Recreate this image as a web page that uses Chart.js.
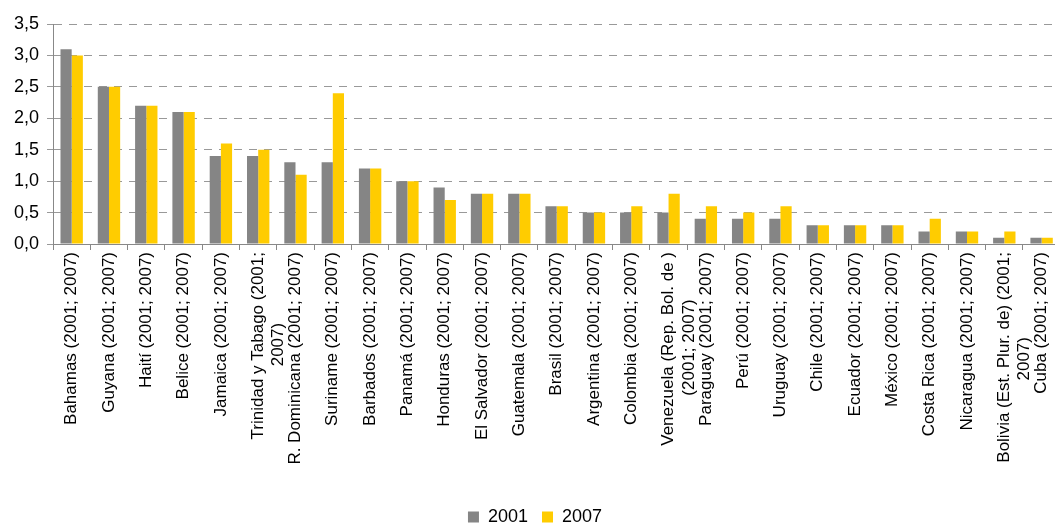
<!DOCTYPE html>
<html>
<head>
<meta charset="utf-8">
<script src="https://cdn.jsdelivr.net/npm/chart.js@4"></script>
<style>
  html, body { margin: 0; padding: 0; background: #fff; overflow: hidden; }
  #wrap { width: 1064px; height: 536px; }
</style>
</head>
<body>
<div id="wrap"><canvas id="rateChart"></canvas></div>
<script>
const countries = [
    'Bahamas (2001; 2007)', 'Guyana (2001; 2007)', 'Haití (2001; 2007)', 'Belice (2001; 2007)',
    'Jamaica (2001; 2007)', ['Trinidad y Tabago (2001;', '2007)'], 'R. Dominicana (2001; 2007)',
    'Suriname (2001; 2007)', 'Barbados (2001; 2007)', 'Panamá (2001; 2007)', 'Honduras (2001; 2007)',
    'El Salvador (2001; 2007)', 'Guatemala (2001; 2007)', 'Brasil (2001; 2007)', 'Argentina (2001; 2007)',
    'Colombia (2001; 2007)', ['Venezuela (Rep. Bol. de )', '(2001; 2007)'], 'Paraguay (2001; 2007)',
    'Perú (2001; 2007)', 'Uruguay (2001; 2007)', 'Chile (2001; 2007)', 'Ecuador (2001; 2007)',
    'México (2001; 2007)', 'Costa Rica (2001; 2007)', 'Nicaragua (2001; 2007)',
    ['Bolivia (Est. Plur. de) (2001;', '2007)'], 'Cuba (2001; 2007)'
];
const values2001 = [3.1, 2.5, 2.2, 2.1, 1.4, 1.4, 1.3, 1.3, 1.2, 1.0, 0.9, 0.8, 0.8, 0.6, 0.5, 0.5, 0.5, 0.4, 0.4, 0.4, 0.3, 0.3, 0.3, 0.2, 0.2, 0.1, 0.1];
const values2007 = [3.0, 2.5, 2.2, 2.1, 1.6, 1.5, 1.1, 2.4, 1.2, 1.0, 0.7, 0.8, 0.8, 0.6, 0.5, 0.6, 0.8, 0.6, 0.5, 0.6, 0.3, 0.3, 0.3, 0.4, 0.2, 0.2, 0.1];
const yTicks = [0, 0.5, 1, 1.5, 2, 2.5, 3, 3.5];

Chart.defaults.font.family = '"Liberation Sans", Arial, sans-serif';
Chart.defaults.color = '#000';

// short second lines are centred under the long first line, as in the source chart
let centreLines = (label) => {
    if (!Array.isArray(label)) return label;
    ctx.font = '17px "Liberation Sans"';
    let full = ctx.measureText(label[0]).width;
    let space = ctx.measureText('\u00a0').width;
    return label.map(line => {
        let w = ctx.measureText(line).width;
        let n = Math.round((full - w) / 2 / space);
        return line + '\u00a0'.repeat(n);
    });
};

let ctx = document.getElementById('rateChart').getContext('2d');
let chart = new Chart(ctx, {
    type: 'bar',
    data: {
        labels: countries,
        datasets: [{
            label: '2001',
            data: values2001,
            backgroundColor: '#858585',
            barPercentage: 1,
            categoryPercentage: 0.6
        }, {
            label: '2007',
            data: values2007,
            backgroundColor: '#FFCC00',
            barPercentage: 1,
            categoryPercentage: 0.6
        }]
    },
    options: {
        responsive: true,
        maintainAspectRatio: false,
        animation: false,
        layout: { padding: { top: 24, right: 0, left: 6, bottom: 0 } },
        scales: {
            x: {
                grid: { drawOnChartArea: false, color: '#888', tickLength: 6, offset: true },
                border: { color: '#888' },
                ticks: {
                    maxRotation: 90, minRotation: 90, autoSkip: false, font: { size: 17 }, padding: 2,
                    callback: function (v, i) { return centreLines(countries[i]); }
                },
                afterFit: (scale) => { scale.height = 250; }
            },
            y: {
                min: 0,
                max: 3.5,
                afterBuildTicks: (scale) => { scale.ticks = yTicks.map(v => ({ value: v })); },
                grid: { color: '#999', tickLength: 6, tickBorderDash: [] },
                border: { color: '#888', dash: [8, 7] },
                ticks: {
                    font: { size: 18 },
                    padding: 8,
                    callback: (v) => v.toFixed(1).replace('.', ',')
                }
            }
        },
        plugins: {
            legend: {
                position: 'bottom',
                labels: { boxWidth: 11, boxHeight: 11, font: { size: 18 }, padding: 14 }
            },
            tooltip: { enabled: false }
        }
    }
});
</script>
</body>
</html>
